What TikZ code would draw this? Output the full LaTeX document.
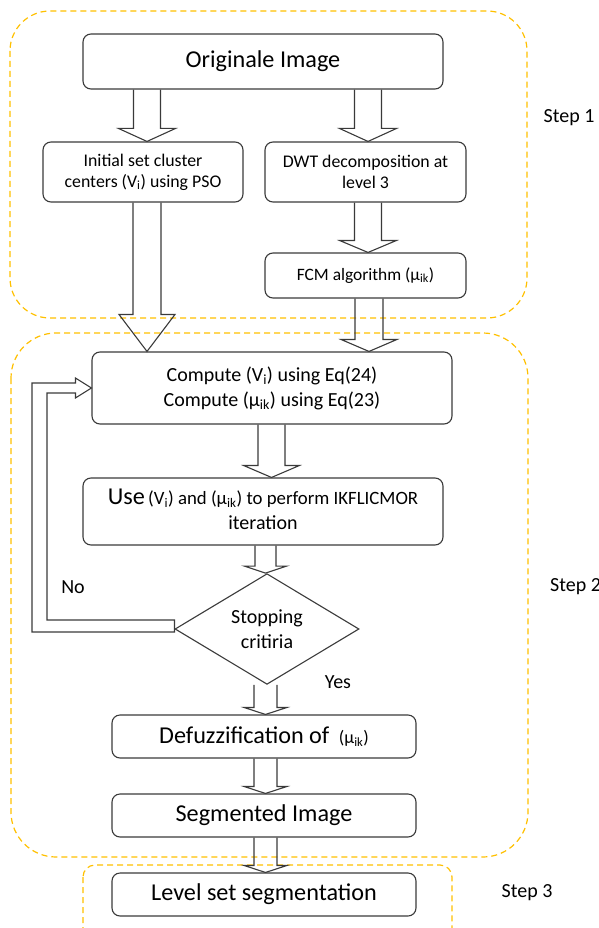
\documentclass[tikz,border=0pt]{standalone}
\usepackage{fontspec}
\setmainfont{Carlito}
\usetikzlibrary{shapes.geometric,calc}
\definecolor{gold}{HTML}{FFC000}
\definecolor{edge}{HTML}{3A3A3A}
\newcommand\fA{\fontsize{24.2}{28}\selectfont}
\newcommand\fB{\fontsize{20}{25}\selectfont}
\newcommand\fC{\fontsize{17.8}{21}\selectfont}
\newcommand\fD{\fontsize{18}{25}\selectfont}
\newcommand\fE{\fontsize{18.8}{25}\selectfont}
\newcommand\fS{\fontsize{20}{25}\selectfont}
\newcommand\barrow[6]{%
  \draw[blk] let \p1=(#2), \p2=(#3) in
    (#1pt-#4pt,\y1) -- (#1pt-#4pt,\y2+#6pt) -- (#1pt-#5pt,\y2+#6pt) -- (#1pt,\y2)
    -- (#1pt+#5pt,\y2+#6pt) -- (#1pt+#4pt,\y2+#6pt) -- (#1pt+#4pt,\y1);}
\tikzset{
  box/.style={draw=edge, line width=1.1pt, rounded corners=8pt, inner sep=0pt, align=center},
  blk/.style={draw=edge, line width=1.1pt, line join=miter},
  stepzone/.style={draw=gold, line width=1.2pt, dash pattern=on 6pt off 4pt},
  lbl/.style={inner sep=0pt, font=\fS},
}
\begin{document}
\begin{tikzpicture}[x=1pt,y=-1pt]
\useasboundingbox (0,0) rectangle (598,928);
% step zones
\draw[stepzone, rounded corners=40pt] (10,11) rectangle (527,318);
\draw[stepzone, rounded corners=45pt] (11,333) rectangle (528,857);
\draw[stepzone, rounded corners=12pt] (83,865) rectangle (452,960);
% nodes
\node[box, minimum width=360pt, minimum height=55pt, font=\fA] (orig) at (263,61.5) {Originale Image};
\node[box, minimum width=200pt, minimum height=60pt, font=\fC] (init) at (143,172) {Initial set cluster\\centers (V\textsubscript{i}) using PSO};
\node[box, minimum width=201pt, minimum height=60pt, font=\fC] (dwt) at (365.5,172) {DWT decomposition at\\level 3};
\node[box, minimum width=201pt, minimum height=45pt, font=\fontsize{17.4}{21}\selectfont] (fcm) at (365.5,275.5) {FCM algorithm (μ\textsubscript{ik})};
\node[box, minimum width=360pt, minimum height=72pt, font=\fB] (comp) at (272,388) {Compute (V\textsubscript{i}) using Eq(24)\\Compute (μ\textsubscript{ik}) using Eq(23)};
\node[draw=edge, line width=1.1pt, rounded corners=8pt, inner sep=0pt, minimum width=360pt, minimum height=67pt, font=\fB] (use) at (263,511.5) {\begin{tabular}{@{}c@{}}{\fA Use}\,{\fE(V\textsubscript{i}) and (μ\textsubscript{ik}) to perform IKFLICMOR}\\iteration\end{tabular}};
\node[draw=edge, line width=1.1pt, shape=diamond, minimum width=184pt, minimum height=100pt, inner sep=0pt, align=center, font=\fS] (dia) at (267,629) {Stopping\\critiria};
\node[box, minimum width=304pt, minimum height=43pt, font=\fA] (defz) at (264,736.5) {Defuzzification of\, {\fD(μ\textsubscript{ik})}};
\node[box, minimum width=304pt, minimum height=43pt, font=\fA] (seg) at (264,815.5) {Segmented Image};
\node[box, minimum width=304pt, minimum height=43pt, font=\fA] (lvl) at (264,894.5) {Level set segmentation};
% labels
\node[lbl] (s1) at (569,118) {Step 1};
\node[lbl, anchor=west] (s2) at (550,587) {Step 2};
\node[lbl] (s3) at (527,893) {Step 3};
\node[lbl] (no) at (73,587) {No};
\node[lbl] (yes) at (338,682) {Yes};
% block arrows
\barrow{147}{orig.south}{init.north}{13.5}{28.5}{13}
\barrow{368}{orig.south}{dwt.north}{13.5}{28.5}{13}
\barrow{368}{dwt.south}{fcm.north}{13.5}{28.5}{12}
\barrow{147}{init.south}{comp.north}{14}{28}{37}
\barrow{369}{fcm.south}{comp.north}{14}{28}{12}
\barrow{271.5}{comp.south}{use.north}{13.5}{28}{12}
\barrow{265.5}{use.south}{dia.north}{10.5}{21}{7}
\barrow{265.5}{dia.south}{defz.north}{11.5}{21.5}{7}
\barrow{265.5}{defz.south}{seg.north}{11.5}{21.5}{7}
\barrow{265.5}{seg.south}{lvl.north}{11.5}{21.5}{7}
% feedback loop (No)
\draw[blk] let \p1=(dia.west), \p2=(comp.west) in
  (\x1,\y1+9pt) -- (47pt,\y1+9pt) -- (47pt,\y2-5pt) -- (\x2-16pt,\y2-5pt)
  -- (\x2-16pt,\y2-10pt) -- (\p2) -- (\x2-16pt,\y2+10pt) -- (\x2-16pt,\y2+5pt)
  -- (32pt,\y2+5pt) -- (32pt,\y1-3pt) -- (\x1,\y1-3pt) -- cycle;
\end{tikzpicture}
\end{document}
